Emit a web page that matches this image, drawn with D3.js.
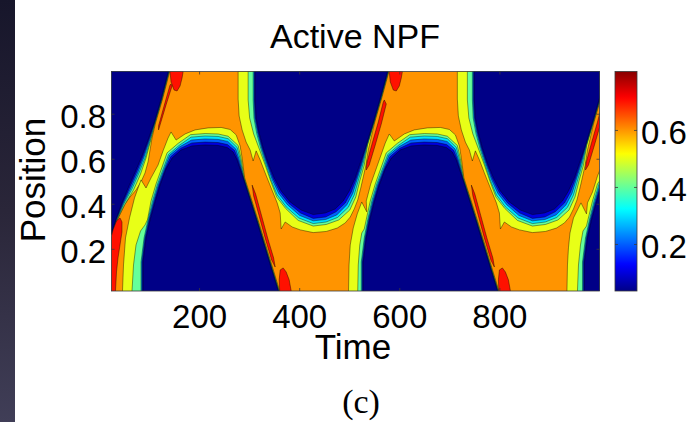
<!DOCTYPE html>
<html>
<head>
<meta charset="utf-8">
<script src="https://cdn.jsdelivr.net/npm/d3@7"></script>
<style>
  html, body { margin: 0; padding: 0; background: #fff; }
  svg { display: block; }
</style>
</head>
<body>
<svg id="chart" width="692" height="422"></svg>
<script>
// --- Axis and colour data ---
const timeDomain = [25, 1000];
const positionDomain = [0.0125, 0.9875];
const timeTicks = [200, 400, 600, 800];
const positionTicks = [0.2, 0.4, 0.6, 0.8];
const colorRange = [0.035, 0.805];
const colorTicks = [0.2, 0.4, 0.6];
const levels = [0.1, 0.2, 0.3, 0.4, 0.5, 0.6, 0.7];

// --- Contour regions, [time, position] ---
// value < 0.6 (yellow band and everything inside it)
const below60 = [
  [[-18,1.04],[141,1.04],[141,0.985],[127,0.865],[113,0.759],[106,0.692],[102,0.639],[98,0.586],[92,0.537],[84,0.497],[74,0.461],[62,0.430],[52,0.399],[37.6,0.332],[27.6,0.266],[-18,0.225]],
  [[47,-0.03],[47,0.013],[49,0.128],[53,0.248],[61,0.337],[71,0.426],[84,0.506],[94,0.470],[104,0.515],[118,0.572],[128,0.635],[138,0.692],[144,0.719],[154,0.683],[172,0.710],[192,0.728],[218,0.737],[244,0.739],[262,0.730],[274,0.706],[282,0.657],[286,0.603],[291,0.515],[305,0.417],[319,0.319],[333,0.217],[347,0.115],[361,0.013],[363,-0.03]],
  [[278,1.04],[278,0.865],[280,0.790],[286,0.728],[294,0.674],[302,0.639],[308,0.590],[314,0.635],[322,0.595],[332,0.537],[344,0.470],[356,0.404],[362,0.359],[364,0.288],[372,0.319],[386,0.297],[402,0.284],[428,0.272],[454,0.277],[476,0.292],[492,0.315],[502,0.341],[510,0.377],[517,0.417],[523,0.470],[528,0.519],[533,0.568],[538,0.639],[551,0.763],[565,0.870],[579,0.985],[581,1.04]],
  [[498.6,-0.03],[498.6,0.013],[499.6,0.128],[502,0.217],[508,0.292],[516,0.355],[525,0.408],[535,0.364],[534,0.412],[543,0.488],[555,0.563],[565,0.626],[572,0.670],[580,0.710],[590,0.679],[610,0.710],[630,0.728],[656,0.737],[682,0.739],[700,0.730],[712,0.706],[720,0.657],[724,0.603],[729,0.515],[743,0.417],[757,0.319],[771,0.217],[785,0.115],[799,0.013],[801,-0.03]],
  [[716,1.04],[716,0.865],[718,0.790],[724,0.728],[732,0.674],[740,0.639],[746,0.590],[752,0.635],[760,0.595],[770,0.537],[782,0.470],[794,0.404],[800,0.359],[802,0.288],[810,0.319],[824,0.297],[840,0.284],[866,0.272],[892,0.277],[914,0.292],[930,0.315],[940,0.341],[948,0.377],[955,0.417],[961,0.470],[966,0.519],[971,0.568],[976,0.639],[989,0.763],[1003,0.870],[1017,0.985],[1019,1.04]],
  [[935,-0.03],[935,0.013],[936,0.128],[938,0.204],[941,0.270],[948,0.337],[963,0.404],[974,0.355],[976,0.404],[986,0.452],[996,0.523],[1004,0.568],[1026,0.639],[1030,-0.03]]
];

// value < 0.5
const below50 = [
  [[-18,1.04],[140,1.04],[140,0.985],[126,0.865],[112,0.759],[103,0.679],[94,0.603],[83,0.532],[69,0.461],[51,0.395],[36.6,0.332],[26.6,0.266],[-18,0.226]],
  [[66,-0.03],[66,0.013],[69,0.128],[74,0.217],[83,0.279],[92,0.306],[97,0.330],[104,0.412],[114,0.488],[126,0.563],[136,0.626],[158,0.668],[183,0.707],[212,0.712],[238,0.710],[258,0.700],[278,0.659],[284,0.601],[290,0.515],[304,0.417],[318,0.319],[332,0.217],[346,0.115],[360,0.013],[362,-0.03]],
  [[298,1.04],[298,0.861],[301,0.781],[309,0.710],[321,0.639],[332,0.572],[343,0.501],[355,0.430],[373,0.379],[398,0.326],[428,0.301],[454,0.308],[479,0.328],[501,0.372],[513,0.430],[521,0.501],[530,0.572],[536.6,0.661],[550,0.763],[564,0.870],[578,0.985],[580,1.04]],
  [[517,-0.03],[517,0.013],[518,0.128],[521,0.217],[525,0.270],[530,0.288],[534,0.330],[542,0.412],[552,0.488],[564,0.563],[574,0.626],[596,0.668],[621,0.707],[650,0.712],[676,0.710],[696,0.700],[716,0.659],[722,0.601],[728,0.515],[742,0.417],[756,0.319],[770,0.217],[784,0.115],[798,0.013],[800,-0.03]],
  [[736,1.04],[736,0.861],[739,0.781],[747,0.710],[759,0.639],[770,0.572],[781,0.501],[793,0.430],[811,0.379],[836,0.326],[866,0.301],[892,0.308],[917,0.328],[939,0.372],[951,0.430],[959,0.501],[968,0.572],[974.6,0.661],[988,0.763],[1002,0.870],[1016,0.985],[1018,1.04]],
  [[956,-0.03],[956,0.013],[958,0.128],[962,0.217],[967,0.279],[974,0.301],[977,0.330],[986,0.412],[996,0.488],[1030,0.600],[1030,-0.03]]
];

// value < 0.4
const below40 = [
  [[-18,1.04],[139.6,1.04],[139.6,0.985],[125.6,0.865],[111.6,0.759],[102,0.679],[92,0.603],[80,0.537],[66,0.466],[49,0.397],[36,0.332],[26,0.266],[-18,0.227]],
  [[84,-0.03],[84,0.141],[90,0.248],[98,0.330],[107,0.412],[117,0.488],[129,0.559],[139,0.619],[160,0.659],[184,0.696],[212,0.701],[238,0.699],[258,0.689],[276,0.650],[282,0.599],[289.2,0.515],[303.2,0.417],[317.2,0.319],[331.2,0.217],[345.2,0.115],[359.2,0.013],[361.2,-0.03]],
  [[308,1.04],[308,0.861],[309.6,0.781],[315.2,0.711],[323.2,0.645],[333,0.577],[343.6,0.506],[356,0.439],[374,0.386],[399,0.337],[428,0.312],[453.6,0.319],[476.6,0.339],[498,0.384],[510,0.439],[518.4,0.506],[527.6,0.577],[536,0.661],[549.6,0.763],[563.6,0.870],[577.6,0.985],[579.6,1.04]],
  [[524,-0.03],[524,0.141],[530,0.248],[537,0.330],[545,0.412],[555,0.488],[567,0.559],[577,0.619],[598,0.659],[622,0.696],[650,0.701],[676,0.699],[696,0.689],[714,0.650],[720,0.599],[727.2,0.515],[741.2,0.417],[755.2,0.319],[769.2,0.217],[783.2,0.115],[797.2,0.013],[799.2,-0.03]],
  [[746,1.04],[746,0.861],[747.6,0.781],[753.2,0.711],[761.2,0.645],[771,0.577],[781.6,0.506],[794,0.439],[812,0.386],[837,0.337],[866,0.312],[891.6,0.319],[914.6,0.339],[936,0.384],[948,0.439],[956.4,0.506],[965.6,0.577],[974,0.661],[987.6,0.763],[1001.6,0.870],[1015.6,0.985],[1017.6,1.04]],
  [[966,-0.03],[966,0.141],[972,0.248],[980,0.330],[989,0.412],[999,0.488],[1011,0.559],[1030,0.619],[1030,-0.03]]
];

// value < 0.3
const below30 = [
  [[-18,1.04],[139,1.04],[139,0.985],[125,0.865],[111,0.759],[101,0.683],[90,0.608],[78,0.541],[64,0.470],[48,0.399],[35.2,0.332],[25.2,0.266],[-18,0.228]],
  [[85.4,-0.03],[85.4,0.141],[91.4,0.248],[99.4,0.329],[108.8,0.410],[118.8,0.486],[130.8,0.557],[141,0.615],[161.2,0.653],[184.8,0.683],[212,0.688],[238,0.686],[257.4,0.677],[273.4,0.643],[280,0.597],[288.8,0.515],[302.8,0.417],[316.8,0.319],[330.8,0.217],[344.8,0.115],[358.8,0.013],[360.8,-0.03]],
  [[309.6,1.04],[309.6,0.861],[311.2,0.781],[317,0.713],[325,0.646],[334.8,0.579],[346,0.508],[359,0.446],[377,0.395],[401,0.348],[428,0.324],[453,0.330],[475,0.350],[495,0.395],[507,0.446],[516,0.510],[525.6,0.579],[535.2,0.661],[549,0.763],[563,0.870],[577,0.985],[579,1.04]],
  [[525.4,-0.03],[525.4,0.141],[531.4,0.248],[538.4,0.329],[546.8,0.410],[556.8,0.486],[568.8,0.557],[579,0.615],[599.2,0.653],[622.8,0.683],[650,0.688],[676,0.686],[695.4,0.677],[711.4,0.643],[718,0.597],[726.8,0.515],[740.8,0.417],[754.8,0.319],[768.8,0.217],[782.8,0.115],[796.8,0.013],[798.8,-0.03]],
  [[747.6,1.04],[747.6,0.861],[749.2,0.781],[755,0.713],[763,0.646],[772.8,0.579],[784,0.508],[797,0.446],[815,0.395],[839,0.348],[866,0.324],[891,0.330],[913,0.350],[933,0.395],[945,0.446],[954,0.510],[963.6,0.579],[973.2,0.661],[987,0.763],[1001,0.870],[1015,0.985],[1017,1.04]],
  [[967.4,-0.03],[967.4,0.141],[973.4,0.248],[981.4,0.329],[990.8,0.410],[1000.8,0.486],[1012.8,0.557],[1030,0.615],[1030,-0.03]]
];

// value < 0.2
const below20 = [
  [[-18,1.04],[138.6,1.04],[138.6,0.985],[124.6,0.865],[110.6,0.759],[99.6,0.683],[88,0.610],[76,0.546],[62,0.475],[47,0.401],[34.6,0.332],[24.6,0.266],[-18,0.229]],
  [[86.6,-0.03],[86.6,0.141],[92.6,0.248],[100.6,0.329],[110.4,0.409],[120.4,0.484],[132.4,0.555],[143.4,0.609],[162.6,0.646],[185.4,0.670],[212,0.674],[238,0.672],[256.6,0.663],[270.8,0.637],[278,0.596],[288.4,0.515],[302.4,0.417],[316.4,0.319],[330.4,0.217],[344.4,0.115],[358.4,0.013],[360.4,-0.03]],
  [[310.8,1.04],[310.8,0.861],[312.6,0.781],[318.4,0.714],[326.4,0.647],[336.4,0.580],[348,0.511],[361.6,0.451],[379.6,0.401],[402.6,0.359],[428,0.335],[452.6,0.341],[473.4,0.364],[492,0.403],[504,0.452],[514,0.512],[524,0.580],[534.6,0.661],[548.6,0.763],[562.6,0.870],[576.6,0.985],[578.6,1.04]],
  [[526.6,-0.03],[526.6,0.141],[532.6,0.248],[539.6,0.329],[548.4,0.409],[558.4,0.484],[570.4,0.555],[581.4,0.609],[600.6,0.646],[623.4,0.670],[650,0.674],[676,0.672],[694.6,0.663],[708.8,0.637],[716,0.596],[726.4,0.515],[740.4,0.417],[754.4,0.319],[768.4,0.217],[782.4,0.115],[796.4,0.013],[798.4,-0.03]],
  [[748.8,1.04],[748.8,0.861],[750.6,0.781],[756.4,0.714],[764.4,0.647],[774.4,0.580],[786,0.511],[799.6,0.451],[817.6,0.401],[840.6,0.359],[866,0.335],[890.6,0.341],[911.4,0.364],[930,0.403],[942,0.452],[952,0.512],[962,0.580],[972.6,0.661],[986.6,0.763],[1000.6,0.870],[1014.6,0.985],[1016.6,1.04]],
  [[968.6,-0.03],[968.6,0.141],[974.6,0.248],[982.6,0.329],[992.4,0.409],[1002.4,0.484],[1014.4,0.555],[1030,0.609],[1030,-0.03]]
];

// value < 0.1
const below10 = [
  [[-18,1.04],[138,1.04],[138,0.985],[124,0.865],[110,0.759],[98,0.683],[86,0.612],[74,0.550],[60,0.479],[46,0.404],[34,0.332],[24,0.266],[-18,0.230]],
  [[88,-0.03],[88,0.141],[94,0.248],[102,0.328],[112,0.408],[122,0.483],[134,0.555],[146,0.603],[164,0.639],[186,0.657],[212,0.661],[238,0.659],[256,0.650],[268,0.630],[276,0.595],[288,0.515],[302,0.417],[316,0.319],[330,0.217],[344,0.115],[358,0.013],[360,-0.03]],
  [[312,1.04],[312,0.861],[314,0.781],[320,0.714],[328,0.648],[338,0.581],[350,0.515],[364,0.457],[382,0.408],[404,0.372],[428,0.352],[452,0.359],[472,0.377],[488,0.412],[500,0.457],[512,0.515],[522,0.581],[534,0.661],[548,0.763],[562,0.870],[576,0.985],[578,1.04]],
  [[528,-0.03],[528,0.141],[534,0.248],[541,0.328],[550,0.408],[560,0.483],[572,0.555],[584,0.603],[602,0.639],[624,0.657],[650,0.661],[676,0.659],[694,0.650],[706,0.630],[714,0.595],[726,0.515],[740,0.417],[754,0.319],[768,0.217],[782,0.115],[796,0.013],[798,-0.03]],
  [[750,1.04],[750,0.861],[752,0.781],[758,0.714],[766,0.648],[776,0.581],[788,0.515],[802,0.457],[820,0.408],[842,0.372],[866,0.352],[890,0.359],[910,0.377],[926,0.412],[938,0.457],[950,0.515],[960,0.581],[972,0.661],[986,0.763],[1000,0.870],[1014,0.985],[1016,1.04]],
  [[970,-0.03],[970,0.141],[976,0.248],[984,0.328],[994,0.408],[1004,0.483],[1016,0.555],[1030,0.603],[1030,-0.03]]
];

// value > 0.7 (red patches next to the fronts)
const above70 = [
  [[22,0.230],[28,0.284],[35,0.324],[42,0.337],[46,0.319],[46,0.275],[42,0.217],[38,0.159],[35,0.097],[33,0.013],[33,-0.03],[12,-0.03],[12,0.217]],
  [[142,1.04],[142,0.985],[144,0.941],[150,0.905],[156,0.901],[162,0.923],[166,0.959],[168,0.985],[168,1.04]],
  [[144,0.932],[146,0.923],[134,0.839],[122,0.750],[119,0.728],[119,0.746],[130,0.834],[142,0.928]],
  [[306,0.483],[313,0.443],[325,0.346],[337,0.248],[349,0.159],[352,0.119],[345,0.150],[332,0.248],[320,0.346],[309,0.435]],
  [[361,-0.03],[361,0.013],[360,0.062],[362,0.106],[368,0.115],[374,0.097],[380,0.062],[384,0.013],[384,-0.03]],
  [[580,1.04],[580,0.985],[582,0.941],[588,0.905],[594,0.901],[600,0.923],[604,0.959],[606,0.985],[606,1.04]],
  [[570,0.861],[574,0.843],[564,0.754],[552,0.661],[540,0.572],[534,0.550],[535,0.581],[546,0.670],[558,0.763],[568,0.852]],
  [[744,0.483],[751,0.443],[763,0.346],[775,0.248],[787,0.159],[790,0.119],[783,0.150],[770,0.248],[758,0.346],[747,0.435]],
  [[799,-0.03],[799,0.013],[798,0.062],[800,0.106],[806,0.115],[812,0.097],[818,0.062],[822,0.013],[822,-0.03]],
  [[1008,0.861],[1012,0.843],[1002,0.754],[990,0.661],[978,0.572],[972,0.550],[973,0.581],[984,0.670],[996,0.763],[1006,0.852]]
];

// --- Jet colormap ---
function jet(f) {
  const c = v => Math.max(0, Math.min(1, v));
  const g = 1 / 128 + f * 126 / 128;
  return d3.rgb(255 * c(1.5 - Math.abs(4 * g - 3)),
                255 * c(1.5 - Math.abs(4 * g - 2)),
                255 * c(1.5 - Math.abs(4 * g - 1))).formatHex();
}
const color = d3.scaleSequential(jet).domain(colorRange).clamp(true);

const FONT = '"Liberation Sans", Arial, Helvetica, sans-serif';
const svg = d3.select("#chart");
const defs = svg.append("defs");

// dark strip at the left edge of the page
const edge = defs.append("linearGradient").attr("id", "edge")
  .attr("x1", 0).attr("y1", 0).attr("x2", 0).attr("y2", 1);
edge.append("stop").attr("offset", "0%").attr("stop-color", "#17162b");
edge.append("stop").attr("offset", "50%").attr("stop-color", "#2a2639");
edge.append("stop").attr("offset", "100%").attr("stop-color", "#403e57");
svg.append("rect").attr("x", 0).attr("y", 0).attr("width", 15).attr("height", 422)
  .attr("fill", "url(#edge)");

// --- Scales ---
const plotLeft = 111.5, plotRight = 599.5, plotTop = 71.5, plotBottom = 291;
const x = d3.scaleLinear().domain(timeDomain).range([plotLeft, plotRight]);
const y = d3.scaleLinear().domain(positionDomain).range([plotBottom, plotTop]);
const line = d3.line().x(d => x(d[0])).y(d => y(d[1]));

defs.append("clipPath").attr("id", "plot-clip")
  .append("rect").attr("x", plotLeft).attr("y", plotTop)
  .attr("width", plotRight - plotLeft).attr("height", plotBottom - plotTop);

// --- Filled contours ---
const plot = svg.append("g").attr("clip-path", "url(#plot-clip)");
plot.append("rect").attr("x", plotLeft).attr("y", plotTop)
  .attr("width", plotRight - plotLeft).attr("height", plotBottom - plotTop)
  .attr("fill", color(levels[5]));

const bands = [
  { regions: below60, fill: color(levels[4]) },
  { regions: below50, fill: color(levels[3]) },
  { regions: below40, fill: color(levels[2]) },
  { regions: below30, fill: color(levels[1]) },
  { regions: below20, fill: color(levels[0]) },
  { regions: below10, fill: color(colorRange[0]) },
  { regions: above70, fill: color(levels[6]) }
];

bands.forEach(band => {
  plot.append("g")
    .selectAll("path")
    .data(band.regions)
    .join("path")
    .attr("d", d => line(d) + "Z")
    .attr("fill", band.fill)
    .attr("stroke", "#000")
    .attr("stroke-width", 0.5)
    .attr("stroke-opacity", 0.8)
    .attr("stroke-linejoin", "round");
});

svg.append("rect").attr("x", plotLeft).attr("y", plotTop)
  .attr("width", plotRight - plotLeft).attr("height", plotBottom - plotTop)
  .attr("fill", "none").attr("stroke", "#3a3a3a").attr("stroke-width", 0.8);

// --- Axes (MATLAB style: ticks inside) ---
function styleAxis(g) {
  g.select(".domain").remove();
  g.selectAll("line").attr("stroke", "#3a3a3a").attr("stroke-width", 0.8);
  g.selectAll("text").attr("font-family", FONT).attr("font-size", 33).attr("fill", "#000");
}

svg.append("g").attr("transform", `translate(0,${plotBottom})`)
  .call(d3.axisBottom(x).tickValues(timeTicks).tickSize(-3).tickPadding(13.5).tickFormat(d3.format("d")))
  .call(styleAxis);
svg.append("g").attr("transform", `translate(0,${plotTop})`)
  .call(d3.axisTop(x).tickValues(timeTicks).tickSize(-3).tickFormat(""))
  .call(styleAxis);
svg.append("g").attr("transform", `translate(${plotLeft},0)`)
  .call(d3.axisLeft(y).tickValues(positionTicks).tickSize(-3).tickPadding(5.5).tickFormat(d3.format(".1f")))
  .call(styleAxis)
  .call(g => g.selectAll("text").attr("dy", "0.41em"));
svg.append("g").attr("transform", `translate(${plotRight},0)`)
  .call(d3.axisRight(y).tickValues(positionTicks).tickSize(-3).tickFormat(""))
  .call(styleAxis);

// --- Colorbar ---
const cbLeft = 615, cbWidth = 22;
const cb = d3.scaleLinear().domain(colorRange).range([plotBottom, plotTop]);
const grad = defs.append("linearGradient").attr("id", "jet")
  .attr("x1", 0).attr("y1", 1).attr("x2", 0).attr("y2", 0);
d3.range(0, 65).forEach(i => {
  grad.append("stop").attr("offset", i / 64).attr("stop-color", jet(i / 64));
});
svg.append("rect").attr("x", cbLeft).attr("y", plotTop)
  .attr("width", cbWidth).attr("height", plotBottom - plotTop)
  .attr("fill", "url(#jet)").attr("stroke", "#3a3a3a").attr("stroke-width", 0.8);
svg.append("g").attr("transform", `translate(${cbLeft + cbWidth},0)`)
  .call(d3.axisRight(cb).tickValues(colorTicks).tickSize(-3).tickPadding(4).tickFormat(d3.format(".1f")))
  .call(styleAxis)
  .call(g => g.selectAll("text").attr("dy", "0.41em"));
svg.append("g").attr("transform", `translate(${cbLeft},0)`)
  .call(d3.axisLeft(cb).tickValues(colorTicks).tickSize(-3).tickFormat(""))
  .call(styleAxis);

// --- Labels ---
svg.append("text").attr("x", 355).attr("y", 48).attr("text-anchor", "middle")
  .attr("font-family", FONT).attr("font-size", 34).text("Active NPF");
svg.append("text").attr("x", 353).attr("y", 359).attr("text-anchor", "middle")
  .attr("font-family", FONT).attr("font-size", 35).text("Time");
svg.append("text").attr("transform", "translate(45,180) rotate(-90)").attr("text-anchor", "middle")
  .attr("font-family", FONT).attr("font-size", 35).text("Position");
svg.append("text").attr("x", 361).attr("y", 413).attr("text-anchor", "middle")
  .attr("font-family", '"Liberation Serif", "DejaVu Serif", serif').attr("font-size", 34).text("(c)");
</script>
</body>
</html>
